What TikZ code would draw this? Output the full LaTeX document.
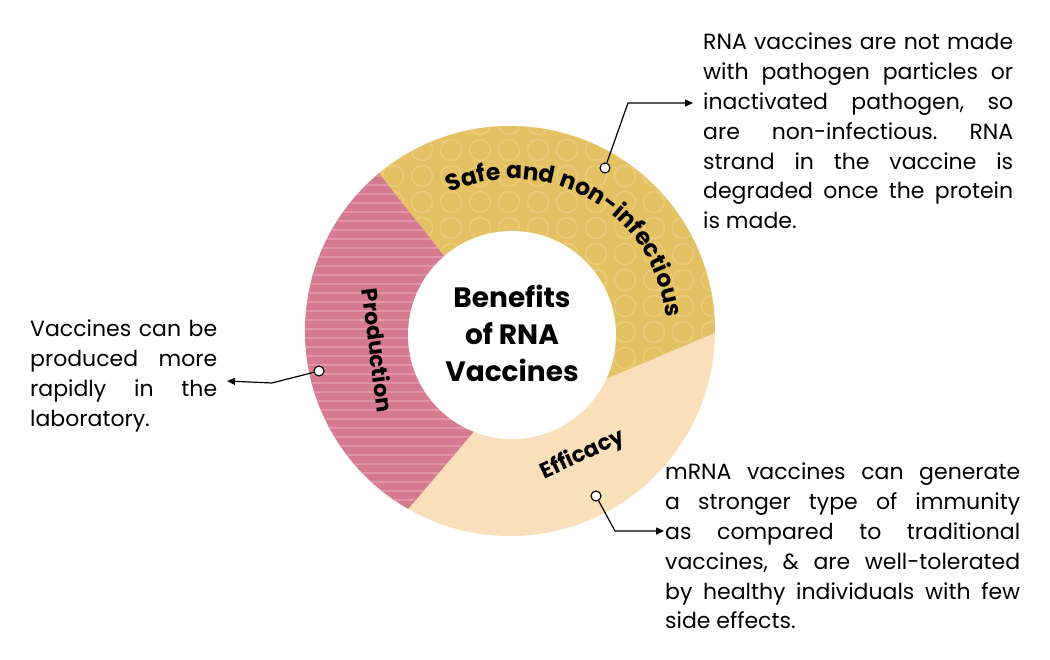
\documentclass[tikz,border=0pt]{standalone}
\usepackage{fontspec}
\setmainfont{Poppins}
\usetikzlibrary{arrows.meta,decorations.text}
\definecolor{pinkc}{RGB}{213,123,143}
\definecolor{stripec}{RGB}{224,148,165}
\definecolor{yellowc}{RGB}{228,193,99}
\definecolor{ringc}{RGB}{234,204,124}
\definecolor{peachc}{RGB}{250,224,186}
\newcommand{\bodyfont}{\fontsize{22}{29.8}\selectfont\frenchspacing}
\newcommand{\labelfont}{\bfseries\fontsize{22}{26}\selectfont}
\newcommand{\arclabelfont}{\bfseries\fontsize{23.5}{26}\selectfont}
\newcommand{\jl}[2]{\hbox to #1pt{#2}}
\tikzset{
  marker/.style={circle, draw=black, fill=white, line width=1.1pt, minimum size=10pt, inner sep=0pt},
  conn/.style={draw=black, line width=1.2pt, -{Triangle[length=8pt,width=7pt]}},
  bodytext/.style={inner sep=0pt, anchor=base west, font=\bodyfont},
  seglabel/.style={font=\labelfont, inner sep=0pt},
}
\begin{document}
\begin{tikzpicture}[x=1pt,y=1pt]
\useasboundingbox (0,0) rectangle (1050,660);
\fill[white] (0,0) rectangle (1050,660);
\coordinate (Co) at (510,329);
\coordinate (Ci) at (512,325);
\coordinate (Cm) at (513,327);
% ring segments
\begin{scope}
  \clip (Co) circle[radius=205pt];
  \fill[peachc] (Co) circle[radius=206pt];
  \begin{scope}
    \clip (512,325) -- (442,407) -- (316,567) -- (240,567) -- (240,72) -- (341,72) -- (477,232) -- cycle;
    \fill[pinkc] (240,60) rectangle (530,580);
    \foreach \yy in {124,133,...,540} \draw[stripec, line width=2pt] (240,\yy) -- (530,\yy);
  \end{scope}
  \begin{scope}
    \clip (512,325) -- (442,407) -- (316,567) -- (830,567) -- (830,376) -- (608,282) -- cycle;
    \fill[yellowc] (300,250) rectangle (830,580);
    \foreach \i in {0,...,13} \foreach \j in {0,...,11}
      \draw[ringc, line width=1.5pt] ({393+29*\i},{536-26*\j}) circle[radius=10.5pt];
  \end{scope}
\end{scope}
\fill[white] (Ci) circle[radius=104pt];
% centre title
\node[font=\bfseries\fontsize{28}{37}\selectfont, align=center, inner sep=0pt] (title) at (512,327) {Benefits\\of RNA\\Vaccines};
% segment labels
\path[decorate, decoration={text along path, text={|\arclabelfont|Safe and non-infectious}, text align=center}]
  ([shift={(123:154pt)}]Cm) arc[start angle=123, end angle=-3, radius=154pt];
\node[seglabel, rotate=-82.5] (lp) at (378,310) {Production};
\node[seglabel, rotate=25] (le) at (583,205) {Efficacy};
% text blocks
\node[bodytext] (t1) at (703,610) {\vtop{\bodyfont\hsize=310pt
  \jl{310}{RNA vaccines are not made}
  \jl{310}{with pathogen particles or}
  \jl{310}{inactivated pathogen, so}
  \jl{310}{are non-infectious. RNA}
  \jl{310}{strand in the vaccine is}
  \jl{310}{degraded once the protein}
  \hbox{is made.}}};
\node[bodytext] (t2) at (30,323) {\vtop{\bodyfont\hsize=187pt
  \jl{187}{Vaccines can be}
  \jl{187}{produced more}
  \jl{187}{rapidly in the}
  \hbox{laboratory.}}};
\node[bodytext] (t3) at (665,180) {\vtop{\bodyfont\hsize=355pt
  \jl{355}{mRNA vaccines can generate}
  \jl{355}{a stronger type of immunity}
  \jl{355}{as compared to traditional}
  \jl{355}{vaccines, \& are well-tolerated}
  \jl{355}{by healthy individuals with few}
  \hbox{side effects.}}};
% connectors
\node[marker] (m1) at (605,492) {};
\coordinate (k1) at (628,557);
\coordinate (a1) at (693,557);
\draw[conn] (m1) -- (k1) -- (a1);
\node[marker] (m2) at (319,289) {};
\coordinate (k2) at (272,277);
\coordinate (a2) at (227,279);
\draw[conn] (m2) -- (k2) -- (a2);
\node[marker] (m3) at (596,164) {};
\coordinate (k3) at (615,129);
\coordinate (a3) at (664,129);
\draw[conn] (m3) -- (k3) -- (a3);
\end{tikzpicture}
\end{document}
